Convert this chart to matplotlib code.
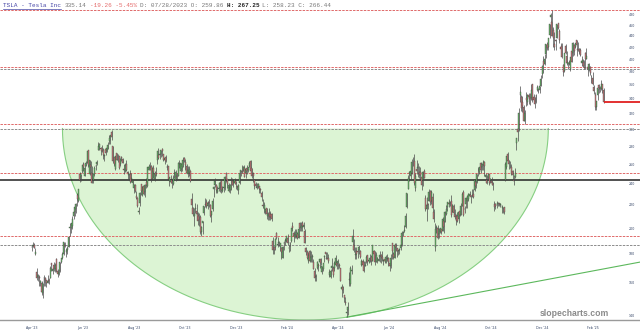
import numpy as np
import matplotlib
matplotlib.use('Agg')
import matplotlib.pyplot as plt
from matplotlib.lines import Line2D
import matplotlib.transforms as mtransforms
from matplotlib.ticker import FixedLocator, NullLocator, NullFormatter

# ---------------- data (daily TSLA bars, 14 Apr 2023 .. 21 Feb 2025) ----------------
opens = [
    185,186,187,180,167,164,164,160,160,153,160,
    163,162,160,162,163,173,168,172,169,176,168,166,168,174,177,180,187,181,183,185,200,200,
    202,210,214,216,229,224,250,247,253,260,248,258,261,276,250,259,251,244,250,258,260,
    276,279,278,278,276,269,277,274,277,286,291,297,280,268,255,272,264,269,260,268,
    266,255,253,260,252,249,250,245,241,236,239,228,226,214,222,240,229,238,232,242,238,254,256,
    258,245,256,245,251,264,270,270,271,277,271,265,268,258,258,243,242,244,240,250,
    244,248,248,260,253,255,257,267,262,258,250,251,253,225,217,210,216,215,212,210,209,197,
    204,213,221,223,219,223,220,211,216,235,239,239,232,235,236,243,233,236,236,250,245,
    233,236,234,243,241,241,243,238,234,241,252,253,254,256,251,256,254,258,263,256,
    250,244,240,236,237,238,235,231,220,216,214,217,210,213,212,212,190,185,185,196,187,
    188,185,184,177,188,190,190,192,184,185,190,202,196,193,194,195,192,204,200,204,
    201,198,184,181,175,182,175,178,174,168,164,170,172,174,176,167,169,178,181,177,
    177,165,164,170,170,170,172,173,173,172,170,156,157,152,148,141,143,162,159,168,189,187,
    179,182,182,183,182,172,175,174,171,175,179,175,174,178,175,182,182,174,177,175,178,179,
    178,175,176,174,176,177,173,171,188,180,177,187,184,182,183,184,187,196,198,
    201,218,235,250,248,251,263,263,236,255,256,252,252,247,244,253,226,216,221,224,233,224,
    227,214,185,200,200,195,197,199,198,206,205,212,218,222,221,224,214,219,212,210,210,208,
    215,211,219,232,216,221,224,225,228,229,229,230,234,242,242,254,252,261,257,259,
    262,247,244,246,250,244,243,241,221,221,220,221,222,220,219,217,218,244,257,271,264,258,257,
    253,244,247,284,300,300,346,342,335,329,310,341,336,346,343,341,361,342,342,336,
    352,351,353,359,377,397,393,409,425,420,441,475,466,451,426,432,436,465,450,420,423,
    391,381,423,406,392,392,384,414,410,424,421,432,417,417,415,394,396,396,410,401,
    387,382,388,373,370,357,345,329,345,360,355,354,362,353,
]
highs = [
    187,189,188,184,170,166,165,162,161,160,165,
    164,162,165,163,171,173,170,174,173,177,169,169,174,177,181,189,189,184,186,194,204,204,
    210,217,218,222,231,235,252,250,259,262,259,263,275,276,265,263,258,251,258,260,264,
    285,284,279,281,278,271,278,281,285,293,293,299,280,268,267,272,271,269,267,269,
    267,260,261,264,253,251,254,251,244,240,240,233,227,218,232,240,238,239,240,246,257,260,262,
    259,257,259,253,257,274,278,275,276,278,271,268,270,260,258,247,249,245,249,255,
    254,251,262,264,261,261,268,268,266,260,258,258,254,231,218,217,222,221,214,213,211,202,
    206,219,226,225,224,225,221,215,226,238,246,240,238,242,243,244,238,238,248,252,245,
    241,240,247,246,245,246,243,238,240,254,254,259,258,259,255,259,257,263,265,256,
    252,245,242,241,241,238,236,233,225,223,216,217,214,217,215,213,193,186,192,197,193,
    190,188,185,186,190,192,194,195,187,189,200,205,198,199,199,197,201,205,205,206,
    205,199,185,183,181,183,182,180,176,170,166,175,173,176,177,171,173,179,181,181,
    180,169,169,177,171,175,179,175,176,173,170,159,158,152,151,144,148,167,171,172,199,191,
    185,185,184,187,183,176,176,175,175,179,179,176,180,179,187,183,182,181,178,179,182,180,
    182,176,178,179,180,178,175,180,188,181,188,188,184,183,184,188,198,198,203,
    213,231,249,253,259,266,268,271,251,265,261,258,257,250,253,255,229,227,222,235,234,234,
    231,216,204,203,203,200,200,199,209,209,215,220,223,225,224,229,221,221,216,212,214,215,
    219,222,232,234,219,227,229,231,233,229,235,235,244,244,250,257,257,262,261,265,
    263,251,249,251,250,246,247,242,224,222,224,223,222,222,220,218,218,262,269,273,264,263,260,
    254,249,256,290,300,328,358,345,344,331,325,349,347,348,348,362,361,347,343,347,
    360,355,358,375,390,405,409,425,429,437,463,484,489,456,448,435,462,465,453,427,428,
    393,411,426,414,396,399,404,423,429,425,428,433,429,419,418,406,401,399,412,419,
    389,394,389,375,380,360,349,337,356,362,359,367,362,355,
]
lows = [
    182,185,184,179,162,161,158,158,152,150,158,
    158,157,160,159,163,168,166,168,167,167,164,165,167,173,176,179,185,178,180,185,194,196,
    199,208,210,213,219,223,242,243,251,253,248,258,261,257,249,251,241,241,248,254,259,
    276,276,270,273,266,263,270,273,277,283,283,287,261,258,254,264,262,255,258,263,
    261,250,252,253,245,245,241,242,238,231,232,225,218,212,219,229,228,229,227,236,237,254,254,
    242,244,246,243,248,260,266,266,268,269,263,260,262,254,244,238,241,236,239,246,
    243,244,248,256,252,253,257,262,254,251,247,248,242,216,210,202,213,212,203,202,195,194,
    195,211,218,217,216,218,209,205,215,227,237,231,231,233,232,231,232,232,234,242,236,
    232,231,234,239,237,240,235,234,230,240,248,251,253,247,246,250,252,257,253,246,
    242,235,237,235,236,231,231,224,217,213,212,208,207,207,207,206,180,180,183,191,185,
    186,182,176,177,183,187,189,187,181,182,189,198,189,192,192,191,192,198,198,198,
    199,188,179,176,173,174,174,174,169,161,161,169,168,170,172,166,168,174,176,176,
    173,164,163,168,164,168,171,169,169,170,161,151,153,148,146,139,140,158,158,166,183,181,
    176,176,177,180,177,171,171,167,171,173,172,173,174,172,175,178,172,174,173,175,174,173,
    175,172,173,173,175,171,168,170,176,176,177,182,178,179,180,183,186,194,197,
    200,217,235,243,244,250,258,239,233,250,247,246,244,234,238,246,215,206,216,224,220,221,
    213,205,182,196,191,192,196,195,198,196,205,211,215,218,219,209,214,212,208,203,205,204,
    210,211,219,210,213,217,217,224,228,222,227,226,233,236,241,248,250,251,254,254,
    248,241,240,245,239,241,239,234,215,216,217,219,219,218,213,213,212,243,255,262,255,256,249,
    245,239,246,276,286,298,336,323,322,310,306,330,332,333,331,339,336,335,327,334,
    351,348,348,359,371,378,390,402,415,415,436,462,440,420,415,415,436,452,427,415,402,
    373,380,408,390,384,391,381,396,405,407,419,406,413,409,405,389,387,384,384,401,
    374,381,375,363,360,347,325,325,338,348,350,353,348,334,
]
closes = [
    185,187,184,181,163,165,163,161,154,160,164,
    162,160,161,161,170,172,169,169,172,168,166,167,174,177,180,189,186,183,184,193,201,204,
    208,214,218,221,225,235,244,250,259,257,256,261,274,259,265,257,241,250,256,258,262,
    280,282,277,274,270,270,272,278,281,290,293,291,263,260,269,265,264,256,266,267,
    261,254,259,254,251,250,242,245,243,240,233,226,219,215,231,233,237,230,239,239,257,257,258,
    245,256,252,251,249,274,267,271,276,274,265,267,263,256,245,247,244,241,246,250,
    252,247,261,260,261,260,264,263,259,251,254,255,243,220,212,212,217,212,206,207,197,201,
    206,219,220,219,222,222,210,215,224,237,243,234,234,236,241,234,235,236,247,244,240,
    239,236,239,239,243,244,240,237,239,251,254,252,257,247,255,253,257,261,253,248,
    248,238,238,237,240,235,234,227,219,220,216,212,212,209,209,208,183,183,191,192,187,
    189,188,181,185,188,190,194,188,184,189,200,200,194,195,197,192,199,200,202,202,
    203,188,181,177,179,175,178,178,169,163,164,174,171,176,173,171,173,178,180,176,
    175,167,168,171,165,173,177,172,175,171,161,157,155,150,147,142,145,162,170,168,194,183,
    180,180,181,185,178,175,172,168,172,178,174,175,177,175,187,180,174,179,177,176,179,178,
    176,175,175,178,177,174,171,177,182,178,187,185,182,183,183,187,196,197,198,
    210,231,246,252,253,262,263,241,248,253,257,249,249,239,252,246,216,220,220,232,223,232,
    217,208,199,201,192,199,200,197,208,201,214,216,223,221,223,211,220,213,209,206,206,214,
    211,219,230,211,216,226,228,230,230,227,228,227,244,238,250,254,257,254,260,262,
    258,249,241,250,241,245,241,239,218,219,220,221,221,221,219,218,214,260,269,263,260,258,250,
    249,243,251,289,297,321,350,328,330,311,321,339,346,342,340,353,339,338,333,345,
    357,351,358,369,389,390,401,425,418,436,463,480,440,436,421,431,462,454,432,417,404,
    379,410,411,394,395,395,403,396,428,414,427,424,415,412,407,397,398,389,400,405,
    384,392,378,374,362,351,329,337,356,356,354,361,354,335.14,
]

y_ticks = [140, 160, 180, 200, 220, 240, 260, 280, 300, 320, 340, 360, 380, 400, 420, 440, 460, 480]
x_tick_labels = ["Apr '23", "Jun '23", "Aug '23", "Oct '23", "Dec '23", "Feb '24",
                 "Apr '24", "Jun '24", "Aug '24", "Oct '24", "Dec '24", "Feb '25"]
red_levels = [488.5, 387, 307, 250.6, 194]
gray_levels = [384, 301, 186.8]
black_levels = [244]
arc_top_price = 301
arc_span = [25, 420]          # bar indices of the arc's left / right ends
trend_prices = [138.8, 174]   # trend line: from the April 2024 low to the right edge

header_parts = [
    ("TSLA - Tesla Inc", "#4646a6", "normal"),
    ("335.14", "#777777", "normal"),
    ("-19.26 -5.45%", "#e46a6a", "normal"),
    ("D: 07/28/2023 O: 259.86", "#777777", "normal"),
    ("H: 267.25", "#222222", "bold"),
    ("L: 258.23 C: 266.44", "#777777", "normal"),
]

# ---------------- figure ----------------
W, H = 640, 335
fig = plt.figure(figsize=(W / 100, H / 100), dpi=100)
fig.patch.set_facecolor("white")
ax = fig.add_axes([0, 15 / H, 1, 320 / H])
ax.set_facecolor("white")
ax.set_yscale("log")

o = np.array(opens, float)
h = np.array(highs, float)
l = np.array(lows, float)
c = np.array(closes, float)
n = len(c)
x = np.arange(n)

bar_px, first_px = 1.23, 31.7
xmin, xmax = -first_px / bar_px, (W - first_px) / bar_px
ymin, ymax = 137.2, 510.0
ax.set_xlim(xmin, xmax)
ax.set_ylim(ymin, ymax)

# half-ellipse (rounded bottom) shaded area
top_frac = (np.log(arc_top_price) - np.log(ymin)) / (np.log(ymax) - np.log(ymin))
t = np.linspace(np.pi, 2 * np.pi, 300)
cx = (arc_span[0] + arc_span[1]) / 2
a = (arc_span[1] - arc_span[0]) / 2
ex = cx + a * np.cos(t)
ey = top_frac * (1 + np.sin(t))
blend = mtransforms.blended_transform_factory(ax.transData, ax.transAxes)
ax.fill(ex, ey, transform=blend, facecolor="#dcf4d4", edgecolor="none", zorder=1)
ax.plot(ex, ey, transform=blend, color="#86cf82", lw=0.8, zorder=1.5)

# level lines
for lv in red_levels:
    ax.axhline(lv, color="#e06a6a", lw=0.7, ls=(0, (2.5, 1.2)), zorder=2)
for lv in gray_levels:
    ax.axhline(lv, color="#8c8c8c", lw=0.7, ls=(0, (2.5, 1.2)), zorder=2)
for lv in black_levels:
    ax.axhline(lv, color="#222222", lw=1.1, zorder=2)

# trend line
i_low = int(np.argmin(l))
ax.plot([i_low, xmax], trend_prices, color="#5cb85c", lw=0.8, zorder=2)

# candles
ax.vlines(x, l, h, color="#4a4a4a", lw=0.5, zorder=3)
up = c >= o
dn = ~up
ax.bar(x[up], np.maximum(c - o, 0.3)[up], bottom=o[up], width=0.8,
       color="#6cc46c", edgecolor="#3a3a3a", lw=0.25, zorder=4)
ax.bar(x[dn], (o - c)[dn], bottom=c[dn], width=0.8,
       color="#d98080", edgecolor="#3a3a3a", lw=0.25, zorder=4)

# last price marker line
ax.hlines(c[-1], n - 1, xmax, color="#e02020", lw=1.3, zorder=5)

# axes / ticks
for s in ["top", "left", "right"]:
    ax.spines[s].set_visible(False)
ax.spines["bottom"].set_color("#9a9a9a")
ax.spines["bottom"].set_linewidth(1.0)

ax.yaxis.set_major_locator(FixedLocator(y_ticks))
ax.yaxis.set_minor_locator(NullLocator())
ax.yaxis.set_minor_formatter(NullFormatter())
ax.set_yticklabels([str(v) for v in y_ticks])
ax.yaxis.tick_right()
ax.tick_params(axis="y", which="both", length=0, pad=-8, labelsize=2.3, labelcolor="#334466")

ax.set_xticks(np.arange(len(x_tick_labels)) * 41.5)
ax.set_xticklabels(x_tick_labels)
ax.tick_params(axis="x", length=0, pad=4, labelsize=2.3, labelcolor="#334466")

# header line
col = 0
pitch = 3.6
for text, color, weight in header_parts:
    fig.text((3.3 + col * pitch) / W, 1 - 5.5 / H, text, fontsize=4.3, family="Liberation Mono",
             color=color, fontweight=weight, ha="left", va="center")
    col += len(text) + 1
fig.add_artist(Line2D([3.3 / W, (3.3 + 16 * pitch) / W], [1 - 8.8 / H] * 2,
                      color="#4646a6", lw=0.5))

# watermark
fig.text(574 / W, 1 - 314 / H, "slopecharts.com", fontsize=6.2, fontweight="bold",
         family="Liberation Sans", color="#8a8a8a", ha="center", va="center")

fig.savefig("out.png", dpi=100)
